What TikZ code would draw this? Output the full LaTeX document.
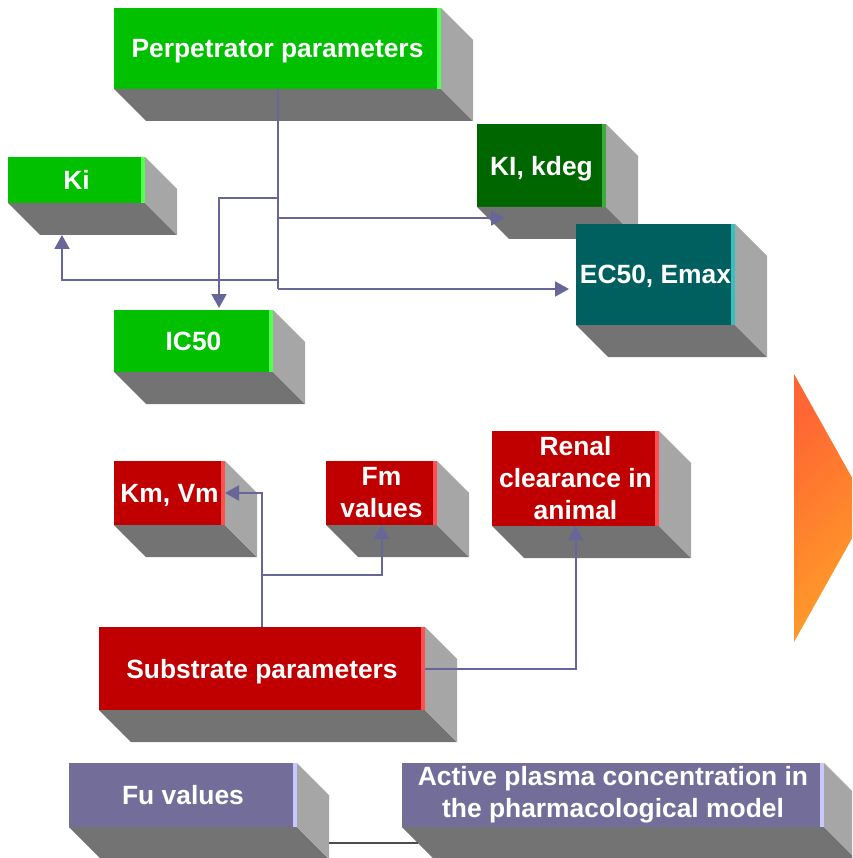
\documentclass[tikz,border=0pt]{standalone}
\usepackage{fontspec}
\setmainfont{Liberation Sans}
\usepackage{tikz}
\usetikzlibrary{calc}
\usetikzlibrary{arrows.meta}
\definecolor{perpgreen}{RGB}{0,192,0}
\definecolor{perpstripe}{RGB}{80,255,80}
\definecolor{kdeggreen}{RGB}{0,102,0}
\definecolor{kdegstripe}{RGB}{60,170,60}
\definecolor{ecteal}{RGB}{0,96,96}
\definecolor{ecstripe}{RGB}{60,190,190}
\definecolor{subred}{RGB}{192,0,0}
\definecolor{substripe}{RGB}{255,80,80}
\definecolor{fupurple}{RGB}{115,110,153}
\definecolor{fustripe}{RGB}{200,200,255}
\definecolor{sidegray}{RGB}{166,166,166}
\definecolor{bottomgray}{RGB}{115,115,115}
\definecolor{linkblue}{RGB}{102,102,153}
\definecolor{tieline}{RGB}{77,77,77}
\definecolor{arrowA}{RGB}{255,102,51}
\definecolor{arrowB}{RGB}{255,160,40}
\newcommand{\boxfont}{\fontsize{26.4}{32}\selectfont\bfseries}
% side and bottom faces of a box, plus the light edge of its front
\newcommand{\cubesides}[2]{%
  \fill[bottomgray] (#1.south west) -- (#1.south east) -- ++(32,32) -- ($(#1.south west)+(32,32)$) -- cycle;
  \fill[sidegray] (#1.north east) -- ++(32,32) -- ($(#1.south east)+(32,32)$) -- (#1.south east) -- cycle;
  \fill[#2] ($(#1.north east)+(-4,0)$) rectangle (#1.south east);
}
\tikzset{
  facebox/.style={rectangle, inner sep=0pt, outer sep=0pt, anchor=north west,
    text=white, font=\boxfont, align=center},
  oneline/.style={text depth=0pt},
  link/.style={draw=linkblue, line width=2pt},
  tip/.style={-{Triangle[width=15pt,length=14pt]}}
}

\begin{document}
\begin{tikzpicture}[x=1pt,y=-1pt]
    \useasboundingbox (0,0) rectangle (852,858);
    \clip (0,0) rectangle (852,858);

    % perpetrator side
    \node[facebox, oneline, fill=perpgreen, minimum width=327, minimum height=81] (perp) at (114,8) {Perpetrator parameters};
    \cubesides{perp}{perpstripe}
    \node[facebox, oneline, fill=perpgreen, minimum width=137, minimum height=46] (ki) at (8,157) {Ki};
    \cubesides{ki}{perpstripe}
    \node[facebox, oneline, fill=perpgreen, minimum width=159, minimum height=62] (ic50) at (114,310) {IC50};
    \cubesides{ic50}{perpstripe}
    \node[facebox, oneline, fill=kdeggreen, minimum width=129, minimum height=83] (kdeg) at (477,124) {KI, kdeg};
    \cubesides{kdeg}{kdegstripe}
    \node[facebox, oneline, fill=ecteal, minimum width=159, minimum height=101] (ec50) at (576,224) {EC50, Emax};
    \cubesides{ec50}{ecstripe}

    % substrate side
    \node[facebox, oneline, fill=subred, minimum width=111, minimum height=64] (km) at (114,461) {Km, Vm};
    \cubesides{km}{substripe}
    \node[facebox, fill=subred, minimum width=111, minimum height=64] (fm) at (326,461) {Fm\\values};
    \cubesides{fm}{substripe}
    \node[facebox, fill=subred, minimum width=167, minimum height=95] (renal) at (492,431) {Renal\\clearance in\\animal};
    \cubesides{renal}{substripe}
    \node[facebox, oneline, fill=subred, minimum width=326, minimum height=83] (sub) at (99,627) {Substrate parameters};
    \cubesides{sub}{substripe}

    % bottom row
    \node[facebox, oneline, fill=fupurple, minimum width=228, minimum height=64] (fu) at (69,763) {Fu values};
    \cubesides{fu}{fustripe}
    \node[facebox, fill=fupurple, minimum width=422, minimum height=64] (act) at (402,763) {Active plasma concentration in\\the pharmacological model};
    \cubesides{act}{fustripe}

    % big arrow
    \shade[top color=arrowA, bottom color=arrowB, shading angle=45] (794,374) -- (869,508) -- (794,642) -- cycle;

    % links from the perpetrator
    \coordinate (forkic) at ($(perp.south)+(0,109)$);
    \coordinate (forkkd) at ($(perp.south)+(0,129)$);
    \coordinate (forkki) at ($(perp.south)+(0,191)$);
    \coordinate (forkec) at ($(perp.south)+(0,200)$);
    \draw[link] (perp.south) -- (forkec);
    \draw[link, tip] (forkic) -| ($(ic50.north west)+(105,-2)$);
    \draw[link, tip] (forkkd) -- ($(kdeg.south west)+(28,11)$);
    \draw[link, tip] (forkki) -| ($(ki.south west)+(54,32)$);
    \draw[link, tip, shorten >=7pt] (forkec) -- (forkec -| ec50.west);

    % links from the substrate
    \coordinate (forkfm) at ($(sub.north)+(0,-52)$);
    \draw[link, tip] (sub.north) |- (km.east);
    \draw[link, tip] (forkfm) -| (fm.south);
    \draw[link, tip] (sub.east) -| (renal.south);

    \draw[draw=tieline, line width=2pt] ($(fu.south east)+(32,16)$) -- ($(act.south west)+(16,16)$);
\end{tikzpicture}
\end{document}
